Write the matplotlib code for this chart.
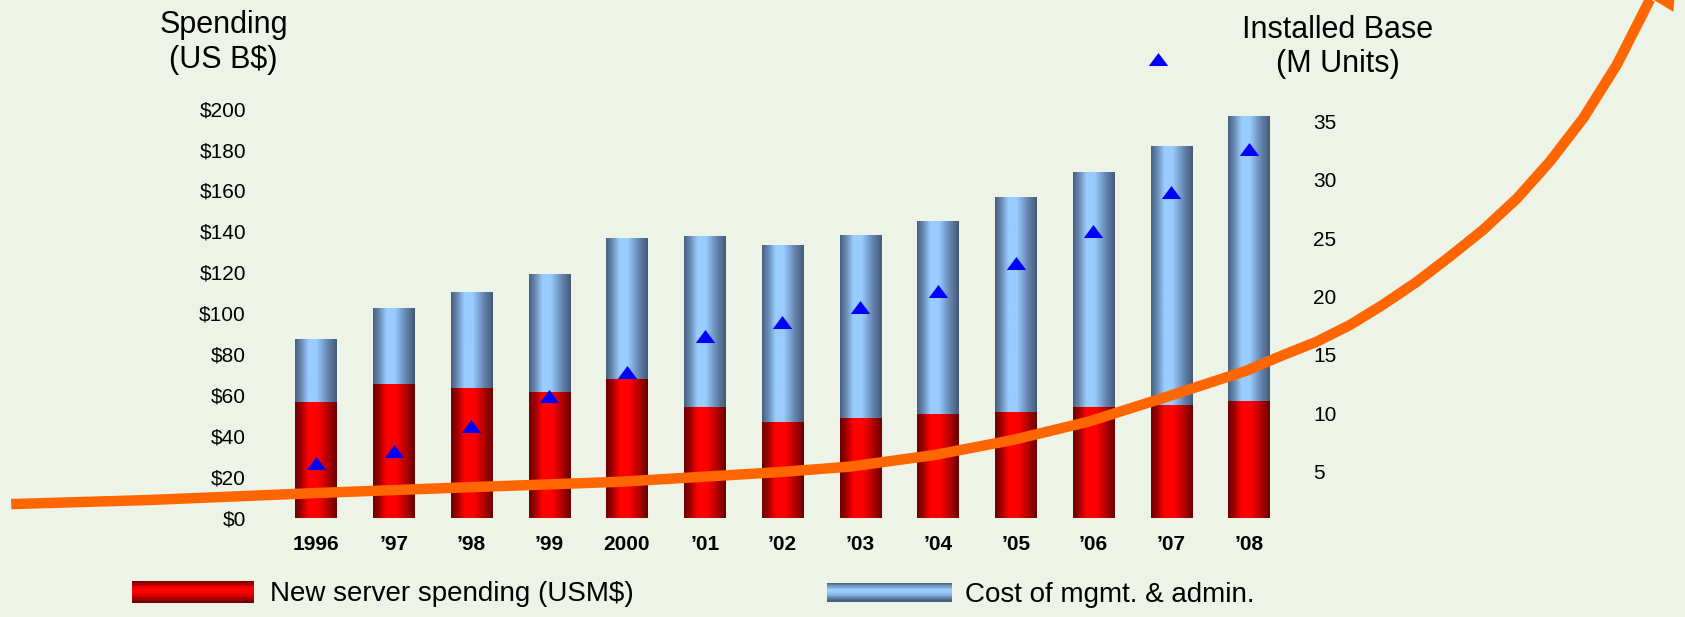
import numpy as np
import matplotlib
matplotlib.use('Agg')
import matplotlib.pyplot as plt
import matplotlib.ticker as ticker
from matplotlib.colors import LinearSegmentedColormap
from matplotlib.patches import Patch, Rectangle
from matplotlib.legend_handler import HandlerBase

# ---------------- data ----------------
years = ['1996', '\u201997', '\u201998', '\u201999', '2000', '\u201901', '\u201902',
         '\u201903', '\u201904', '\u201905', '\u201906', '\u201907', '\u201908']
new_server = [56.8, 65.5, 63.5, 61.6, 67.9, 54.2, 46.8, 48.9, 50.8, 51.8, 54.2, 55.2, 57.2]
mgmt_cost = [30.6, 37.1, 46.9, 57.6, 68.9, 83.6, 86.6, 89.2, 94.1, 104.8, 114.8, 126.5, 139.2]
installed_base = [5.7, 6.8, 8.9, 11.5, 13.5, 16.6, 17.8, 19.1, 20.5, 22.9, 25.6, 29.0, 32.7]

# orange trend arrow (x in bar positions, y in spending units)
trend_x = [-3.92, -2.14, 0.0, 1.94, 3.91, 4.91, 5.99, 6.87, 7.96, 8.96, 9.93,
           10.95, 11.97, 12.44, 12.87, 13.30, 13.72, 14.16, 14.58, 15.01, 15.45,
           15.87, 16.30, 16.73, 17.16]
trend_y = [6.8, 8.8, 12.2, 15.0, 17.7, 20.0, 22.5, 25.1, 30.8, 38.1, 47.0,
           59.3, 72.0, 79.6, 86.1, 94.3, 104.1, 115.4, 127.6, 140.7, 156.2,
           174.1, 195.3, 221.3, 253.4]
arrow_tip = (17.52, 276.0)

plt.rcParams['font.family'] = ['Liberation Sans', 'DejaVu Sans']

bg = '#eef3e8'
red_cm = LinearSegmentedColormap.from_list(
    'red', [(0, '#6e0000'), (0.15, '#a00000'), (0.32, '#ff0000'), (0.55, '#ff0000'),
            (0.8, '#b00000'), (1, '#680000')])
blue_cm = LinearSegmentedColormap.from_list(
    'blue', [(0, '#46607e'), (0.15, '#6a8cb4'), (0.32, '#99ccff'), (0.52, '#99ccff'),
             (0.78, '#6587b0'), (1, '#445a78')])


def shade(ax, bars, cmap):
    # cylinder look: horizontal gradient clipped to each bar
    grad = np.linspace(0, 1, 128).reshape(1, -1)
    for b in bars:
        x0, y0 = b.get_x(), b.get_y()
        im = ax.imshow(grad, cmap=cmap, aspect='auto', interpolation='bilinear',
                       extent=(x0, x0 + b.get_width(), y0, y0 + b.get_height()),
                       zorder=b.get_zorder() + 0.1)
        im.set_clip_path(b)


class StripeHandler(HandlerBase):
    # legend swatch with horizontal bands (dark top/bottom, bright middle)
    def __init__(self, cmap, n=16):
        super().__init__()
        self.cmap = cmap
        self.n = n

    def create_artists(self, legend, orig_handle, xdescent, ydescent, width, height,
                       fontsize, trans):
        h = height / self.n
        arts = []
        for i in range(self.n):
            arts.append(Rectangle((-xdescent, -ydescent + i * h), width, h * 1.05,
                                  facecolor=self.cmap(1 - (i + 0.5) / self.n),
                                  edgecolor='none', transform=trans))
        return arts


fig = plt.figure(figsize=(16.85, 6.17), dpi=100, facecolor=bg)
ax = fig.add_axes([0.1529, 0.1538, 0.616, 0.7034])
ax.set_facecolor(bg)

x = np.arange(len(years))
red_bars = ax.bar(x, new_server, width=0.53, color='#e00000', zorder=2)
blue_bars = ax.bar(x, mgmt_cost, bottom=new_server, width=0.53, color='#88b8e8', zorder=2)
shade(ax, red_bars, red_cm)
shade(ax, blue_bars, blue_cm)

ax.plot(trend_x, trend_y, color='#ff6600', lw=7.5, clip_on=False, zorder=5,
        solid_capstyle='butt', solid_joinstyle='round')
ax.annotate('', xy=arrow_tip, xytext=(trend_x[-1], trend_y[-1]),
            annotation_clip=False,
            arrowprops=dict(arrowstyle='-|>,head_length=1.0,head_width=0.5',
                            mutation_scale=38, color='#ff6600', lw=0,
                            shrinkA=0, shrinkB=0))

ax.set_xlim(-0.75, 12.6)
ax.set_ylim(-2, 210)
ax.set_xticks(x)
ax.set_xticklabels(years, fontsize=15, fontweight='bold')
ax.set_yticks(range(0, 201, 20))
ax.yaxis.set_major_formatter(ticker.StrMethodFormatter('${x:.0f}'))
ax.tick_params(axis='y', length=0, pad=8.4, labelsize=15)
ax.tick_params(axis='x', length=0, pad=9)
for s in ax.spines.values():
    s.set_visible(False)

ax2 = ax.twinx()
tri = [(-1, -0.67), (1, -0.67), (0, 0.67)]
ax2.plot(x, installed_base, linestyle='none', marker=tri, ms=14, color='#0000ff',
         markeredgewidth=0, zorder=6)
# marker key next to the right axis title
ax2.plot([10.83], [40.4], linestyle='none', marker=tri, ms=14, color='#0000ff',
         markeredgewidth=0, clip_on=False)
ax2.set_ylim(0.66, 37.88)
ax2.set_yticks(range(5, 36, 5))
ax2.tick_params(axis='y', length=0, pad=12.5, labelsize=15)
for s in ax2.spines.values():
    s.set_visible(False)

fig.text(223.5 / 1685, 1 - 42.5 / 617, 'Spending\n(US B$)', ha='center', va='center',
         fontsize=22, multialignment='center', linespacing=1.2)
fig.text(1338 / 1685, 1 - 46.8 / 617, 'Installed Base\n(M Units)', ha='center',
         va='center', fontsize=22, multialignment='center', linespacing=1.2)

red_key = Patch(facecolor='#e00000')
blue_key = Patch(facecolor='#88b8e8')
fig.legend(handles=[red_key], labels=['New server spending (USM$)'], loc='center left',
           bbox_to_anchor=(132 / 1685, 1 - 594 / 617), frameon=False, fontsize=20,
           handlelength=4.4, handleheight=0.83, handletextpad=0.55,
           borderpad=0, borderaxespad=0, handler_map={red_key: StripeHandler(red_cm)})
fig.legend(handles=[blue_key], labels=['Cost of mgmt. & admin.'], loc='center left',
           bbox_to_anchor=(827 / 1685, 1 - 595 / 617), frameon=False, fontsize=20,
           handlelength=4.5, handleheight=0.65, handletextpad=0.45,
           borderpad=0, borderaxespad=0, handler_map={blue_key: StripeHandler(blue_cm)})

fig.savefig('out.png', dpi=100, facecolor=bg)
